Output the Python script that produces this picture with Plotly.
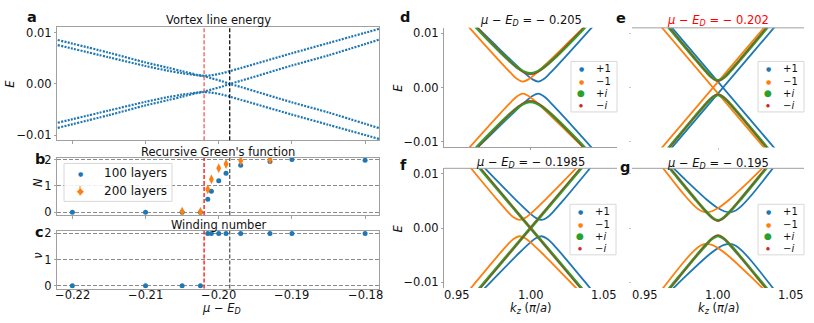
import plotly.graph_objects as go

W, H = 814, 323
BLUE, ORANGE, GREEN, RED = '#1f77b4', '#ff7f0e', '#2ca02c', '#d62728'
FONT = 'DejaVu Sans'
AXC = '#a0a0a0'

# ---------------- data ----------------
mu_red_line = -0.202
mu_black_line = -0.1985
mu_ticks = [-0.22, -0.21, -0.20, -0.19, -0.18]
mu_ticktext = ['−0.22', '−0.21', '−0.20', '−0.19', '−0.18']
E_ticks = [-0.01, 0.0, 0.01]
E_ticktext = ['−0.01', '0.00', '0.01']
k_ticks = [0.95, 1.00, 1.05]
k_ticktext = ['0.95', '1.00', '1.05']

# panel a: vortex line energies
mu_a = [-0.222, -0.215, -0.21, -0.207, -0.205, -0.203, -0.202, -0.201, -0.1995, -0.1985, -0.197, -0.19, -0.185, -0.178]
E_a1 = [0.0086, 0.0061, 0.0042, 0.0032, 0.0025, 0.0018, 0.0016, 0.0017, 0.0021, 0.0025, 0.0031, 0.0060, 0.0080, 0.0108]
E_a2 = [0.0076, 0.0052, 0.0035, 0.0026, 0.0021, 0.0017, 0.0015, 0.0011, 0.0005, 0.0, -0.0006, -0.0036, -0.0056, -0.0087]
E_a3 = [-0.0076, -0.0052, -0.0035, -0.0026, -0.0021, -0.0017, -0.0015, -0.0011, -0.0005, 0.0, 0.0006, 0.0036, 0.0056, 0.0087]
E_a4 = [-0.0086, -0.0061, -0.0042, -0.0032, -0.0025, -0.0018, -0.0016, -0.0017, -0.0021, -0.0025, -0.0031, -0.0060, -0.0080, -0.0108]

# panel b: recursive Green's function
mu_b100 = [-0.22, -0.21, -0.205, -0.2025, -0.2015, -0.201, -0.200, -0.199, -0.197, -0.193, -0.190, -0.180]
N_b100 = [0, 0, 0, 0, 0.5, 0.8, 1.2, 1.48, 1.78, 1.92, 2.0, 1.97]
mu_b200 = [-0.205, -0.2025, -0.2015, -0.201, -0.200, -0.199, -0.197, -0.193]
N_b200 = [0.03, 0.02, 0.87, 1.25, 1.67, 1.83, 1.95, 2.0]
err_b200 = [0.05, 0.05, 0.08, 0.08, 0.08, 0.08, 0.07, 0.04]
legend_b = ['100 layers', '200 layers']

# panel c: winding number
mu_c = [-0.22, -0.21, -0.205, -0.2025, -0.2015, -0.201, -0.200, -0.199, -0.197, -0.193, -0.190, -0.180]
nu_c = [0, 0, 0, 0, 2, 2, 2, 2, 2, 2, 2, 2]

# panels d-g: upper branches E(kz) (lower branch is the E -> -E partner)
d_blue_k = [0.9603, 0.9753, 0.9903, 0.9973, 1.0013, 1.0053, 1.0093, 1.0133, 1.0203, 1.0353, 1.0503]
d_blue_E = [0.01198, 0.00803, 0.00412, 0.00239, 0.00153, 0.0011, 0.00163, 0.00265, 0.00465, 0.00911, 0.01361]
d_orange_k = [0.9497, 0.9647, 0.9797, 0.9867, 0.9907, 0.9947, 0.9987, 1.0027, 1.0097, 1.0247, 1.0397]
d_orange_E = [0.01361, 0.00911, 0.00465, 0.00265, 0.00163, 0.0011, 0.00153, 0.00239, 0.00412, 0.00803, 0.01198]
d_green_k = [0.955, 0.97, 0.985, 0.992, 0.996, 1.0, 1.004, 1.008, 1.015, 1.03, 1.045]
d_green_E = [0.0134, 0.0091, 0.0051, 0.0035, 0.00285, 0.0026, 0.00285, 0.0035, 0.0051, 0.0091, 0.0134]
d_red_k = [0.955, 0.97, 0.985, 0.992, 0.996, 1.0, 1.004, 1.008, 1.015, 1.03, 1.045]
d_red_E = [0.0137, 0.0093, 0.0051, 0.0034, 0.00268, 0.0024, 0.00268, 0.0034, 0.0051, 0.0093, 0.0137]

e_blue_k = [0.9584, 0.9834, 1.0034, 1.0234, 1.0484]
e_blue_E = [0.01418, 0.0063, 0.0, 0.0063, 0.01418]
e_orange_k = [0.9516, 0.9766, 0.9966, 1.0166, 1.0416]
e_orange_E = [0.01418, 0.0063, 0.0, 0.0063, 0.01418]
e_green_k = [0.955, 0.97, 0.985, 0.992, 0.996, 1.0, 1.004, 1.008, 1.015, 1.03, 1.045]
e_green_E = [0.01473, 0.00986, 0.00506, 0.00291, 0.00184, 0.0013, 0.00184, 0.00291, 0.00506, 0.00986, 0.01473]
e_red_k = [0.955, 0.97, 0.985, 0.992, 0.996, 1.0, 1.004, 1.008, 1.015, 1.03, 1.045]
e_red_E = [0.0149, 0.00997, 0.00509, 0.0029, 0.00178, 0.0012, 0.00178, 0.0029, 0.00509, 0.00997, 0.0149]

f_blue_k = [0.9626, 0.9776, 0.9926, 0.9996, 1.0036, 1.0076, 1.0116, 1.0156, 1.0226, 1.0376, 1.0526]
f_blue_E = [0.01278, 0.00859, 0.00449, 0.00271, 0.00188, 0.0015, 0.0020, 0.00304, 0.00519, 0.01004, 0.01497]
f_orange_k = [0.9474, 0.9624, 0.9774, 0.9844, 0.9884, 0.9924, 0.9964, 1.0004, 1.0074, 1.0224, 1.0374]
f_orange_E = [0.01497, 0.01004, 0.00519, 0.00304, 0.0020, 0.0015, 0.00188, 0.00271, 0.00449, 0.00859, 0.01278]
f_green_k = [0.955, 0.98, 1.0, 1.02, 1.045]
f_green_E = [0.01435, 0.00638, 0.0, 0.00638, 0.01435]
f_red_k = [0.955, 0.98, 1.0, 1.02, 1.045]
f_red_E = [0.0146, 0.0065, 0.0, 0.0065, 0.0146]

g_blue_k = [0.9632, 0.9782, 0.9932, 1.0002, 1.0042, 1.0082, 1.0122, 1.0162, 1.0232, 1.0382, 1.0532]
g_blue_E = [0.01271, 0.00875, 0.00504, 0.00364, 0.0031, 0.0029, 0.00324, 0.00409, 0.00614, 0.01121, 0.01651]
g_orange_k = [0.9468, 0.9618, 0.9768, 0.9838, 0.9878, 0.9918, 0.9958, 0.9998, 1.0068, 1.0218, 1.0368]
g_orange_E = [0.01651, 0.01121, 0.00614, 0.00409, 0.00324, 0.0029, 0.0031, 0.00364, 0.00504, 0.00875, 0.01271]
g_green_k = [0.955, 0.97, 0.985, 0.992, 0.996, 1.0, 1.004, 1.008, 1.015, 1.03, 1.045]
g_green_E = [0.01494, 0.01002, 0.00515, 0.00299, 0.00193, 0.0014, 0.00193, 0.00299, 0.00515, 0.01002, 0.01494]
g_red_k = [0.955, 0.97, 0.985, 0.992, 0.996, 1.0, 1.004, 1.008, 1.015, 1.03, 1.045]
g_red_E = [0.01514, 0.01013, 0.00519, 0.00298, 0.00187, 0.0013, 0.00187, 0.00298, 0.00519, 0.01013, 0.01514]

sym_labels = ['+1', '−1', '+<i>i</i>', '−<i>i</i>']
titles_dg = ['<i>μ</i> − <i>E</i><sub><i>D</i></sub> = − 0.205', '<i>μ</i> − <i>E</i><sub><i>D</i></sub> = − 0.202',
             '<i>μ</i> − <i>E</i><sub><i>D</i></sub> = − 0.1985', '<i>μ</i> − <i>E</i><sub><i>D</i></sub> = − 0.195']

# ---------------- figure ----------------
fig = go.Figure()

def P(x, y):
    return x / W, 1 - y / H

# panel a
for E in (E_a1, E_a2, E_a3, E_a4):
    fig.add_trace(go.Scatter(x=mu_a, y=E, mode='lines', xaxis='x', yaxis='y', showlegend=False,
                             line=dict(color=BLUE, width=2.2, dash='2px,1.3px', shape='spline', smoothing=0.8)))
# panel b
fig.add_trace(go.Scatter(x=mu_b100, y=N_b100, mode='markers', xaxis='x2', yaxis='y2', showlegend=False,
                         marker=dict(color=BLUE, size=5)))
fig.add_trace(go.Scatter(x=mu_b200, y=N_b200, mode='markers', xaxis='x2', yaxis='y2', showlegend=False,
                         marker=dict(color=ORANGE, size=7, symbol='diamond-tall'),
                         error_y=dict(type='data', array=err_b200, color=ORANGE, thickness=1, width=0)))
# panel c
fig.add_trace(go.Scatter(x=mu_c, y=nu_c, mode='markers', xaxis='x3', yaxis='y3', showlegend=False,
                         marker=dict(color=BLUE, size=5)))

# panels d-g
panels = [
    ('x4', 'y4', [(d_blue_k, d_blue_E), (d_orange_k, d_orange_E), (d_green_k, d_green_E), (d_red_k, d_red_E)]),
    ('x5', 'y5', [(e_blue_k, e_blue_E), (e_orange_k, e_orange_E), (e_green_k, e_green_E), (e_red_k, e_red_E)]),
    ('x6', 'y6', [(f_blue_k, f_blue_E), (f_orange_k, f_orange_E), (f_green_k, f_green_E), (f_red_k, f_red_E)]),
    ('x7', 'y7', [(g_blue_k, g_blue_E), (g_orange_k, g_orange_E), (g_green_k, g_green_E), (g_red_k, g_red_E)]),
]
styles = [(BLUE, 1.8), (ORANGE, 1.8), (GREEN, 3.0), (RED, 1.0)]
for xa, ya, curves in panels:
    for (k, E), (col, w) in zip(curves, styles):
        shape = 'linear' if min(E) == 0.0 else 'spline'
        for branch in (E, [-e for e in E]):
            fig.add_trace(go.Scatter(x=k, y=branch, mode='lines', xaxis=xa, yaxis=ya, showlegend=False,
                                     line=dict(color=col, width=w, shape=shape, smoothing=0.9)))

tickfont = dict(family=FONT, size=11.5, color='#111')

def ydom(top, bot):
    return [1 - bot / H, 1 - top / H]

common_off = dict(showgrid=False, zeroline=False)
lay = dict(
    width=W, height=H, margin=dict(l=0, r=0, t=0, b=0),
    paper_bgcolor='white', plot_bgcolor='white', showlegend=False,
    font=dict(family=FONT, size=11.5, color='#111'),
    xaxis=dict(domain=[57 / W, 379 / W], range=[-0.2221, -0.1781], anchor='y', showline=True, mirror=True,
               linecolor=AXC, ticks='outside', ticklen=3, tickcolor=AXC, tickvals=mu_ticks,
               showticklabels=False, **common_off),
    yaxis=dict(domain=ydom(22.3, 139), range=[-0.0110, 0.0112], anchor='x', showline=True, mirror=True,
               linecolor=AXC, ticks='outside', ticklen=2, tickcolor=AXC, tickvals=E_ticks, ticktext=E_ticktext,
               tickfont=tickfont, **common_off),
    xaxis2=dict(domain=[57 / W, 379 / W], matches='x', anchor='y2', showline=True, mirror=True,
                linecolor=AXC, ticks='outside', ticklen=3, tickcolor=AXC, tickvals=mu_ticks,
                showticklabels=False, **common_off),
    yaxis2=dict(domain=ydom(157.3, 216), range=[-0.1, 2.06], anchor='x2', showline=True, mirror=True,
                linecolor=AXC, ticks='outside', ticklen=2, tickcolor=AXC, tickvals=[0, 1, 2], tickfont=tickfont,
                showgrid=True, gridcolor='#8a8a8a', griddash='4px,2px', gridwidth=1, zeroline=False),
    xaxis3=dict(domain=[57 / W, 379 / W], matches='x', anchor='y3', showline=True, mirror=True,
                linecolor=AXC, ticks='', tickvals=mu_ticks, showticklabels=False, **common_off),
    yaxis3=dict(domain=ydom(232.3, 291.7), range=[-0.11, 2.1], anchor='x3', showline=True, mirror=True,
                linecolor=AXC, ticks='outside', ticklen=2, tickcolor=AXC, tickvals=[0, 1, 2], tickfont=tickfont,
                showgrid=True, gridcolor='#8a8a8a', griddash='4px,2px', gridwidth=1, zeroline=False),
    # d
    xaxis4=dict(domain=[444 / W, 617 / W], range=[0.941, 1.059], anchor='y4', showline=True, linecolor=AXC,
                ticks='outside', ticklen=2, tickcolor=AXC, tickvals=[1.0], showticklabels=False, **common_off),
    yaxis4=dict(domain=ydom(23.5, 146.5), range=[-0.011, 0.011], anchor='x4', showline=True, linecolor=AXC,
                ticks='outside', ticklen=2, tickcolor=AXC, tickvals=E_ticks, ticktext=E_ticktext, tickfont=tickfont,
                **common_off),
    # e
    xaxis5=dict(domain=[632 / W, 804 / W], range=[0.941, 1.059], anchor='y5', showline=False,
                ticks='outside', ticklen=2, tickcolor='#c8c8c8', tickvals=[1.0], showticklabels=False, **common_off),
    yaxis5=dict(domain=ydom(23.5, 146.5), range=[-0.011, 0.011], anchor='x5', showline=False,
                ticks='outside', ticklen=2, tickcolor='#c8c8c8', tickvals=E_ticks, showticklabels=False, **common_off),
    # f
    xaxis6=dict(domain=[444 / W, 617 / W], range=[0.941, 1.059], anchor='y6', showline=False,
                ticks='', tickvals=k_ticks, showticklabels=False, **common_off),
    yaxis6=dict(domain=ydom(168, 291), range=[-0.011, 0.011], anchor='x6', showline=True, linecolor=AXC,
                ticks='outside', ticklen=2, tickcolor=AXC, tickvals=E_ticks, ticktext=E_ticktext, tickfont=tickfont,
                **common_off),
    # g
    xaxis7=dict(domain=[632 / W, 804 / W], range=[0.941, 1.059], anchor='y7', showline=False,
                ticks='', tickvals=k_ticks, showticklabels=False, **common_off),
    yaxis7=dict(domain=ydom(168, 291), range=[-0.011, 0.011], anchor='x7', showline=False,
                ticks='outside', ticklen=2, tickcolor='#c8c8c8', tickvals=E_ticks, showticklabels=False, **common_off),
)
fig.update_layout(**lay)

shapes = []
# reference lines
for xr, yr, redc, blkc, rw in (('x', 'y', '#f25c5c', '#111111', 1.3), ('x2', 'y2', '#ff1a1a', '#5a5a5a', 1.4),
                               ('x3', 'y3', '#ff1a1a', '#5a5a5a', 1.4)):
    shapes.append(dict(type='line', xref=xr, yref=yr + ' domain', x0=mu_red_line, x1=mu_red_line, y0=0, y1=1,
                       line=dict(color=redc, width=rw, dash='4px,2px'), layer='above'))
    shapes.append(dict(type='line', xref=xr, yref=yr + ' domain', x0=mu_black_line, x1=mu_black_line, y0=0, y1=1,
                       line=dict(color=blkc, width=1.3, dash='4px,2px'), layer='above'))
# top spines for e, f, g
for xa, ya in (('x5', 'y5'), ('x6', 'y6'), ('x7', 'y7')):
    shapes.append(dict(type='line', xref=xa + ' domain', yref=ya + ' domain', x0=0, x1=1, y0=1, y1=1,
                       line=dict(color=AXC, width=1)))

annotations = []

def text(x, y, s, size=11.5, color='#111', angle=0, xanchor='center', yanchor='middle'):
    xp, yp = P(x, y)
    annotations.append(dict(x=xp, y=yp, xref='paper', yref='paper', text=s, showarrow=False,
                            font=dict(family=FONT, size=size, color=color), textangle=angle,
                            xanchor=xanchor, yanchor=yanchor, borderpad=0))

def xtick_labels(xref, vals, labels, y_px):
    for v, lab in zip(vals, labels):
        annotations.append(dict(x=v, y=1 - y_px / H, xref=xref, yref='paper', text=lab, showarrow=False,
                                font=tickfont, xanchor='center', yanchor='middle', borderpad=0))

xtick_labels('x3', mu_ticks, mu_ticktext, 298.5)
xtick_labels('x6', k_ticks, k_ticktext, 298.5)
xtick_labels('x7', k_ticks, k_ticktext, 298.5)

# titles
text(218, 15.5, 'Vortex line energy')
text(218, 151, "Recursive Green's function")
text(218, 226, 'Winding number')
text(531, 16, titles_dg[0])
text(718, 16, titles_dg[1], color='#ff0000')
text(530, 162, titles_dg[2])
text(718, 163, titles_dg[3])
# panel letters
for s, x, y in (('a', 32, 12), ('b', 40, 158), ('c', 39.5, 234), ('d', 405, 12), ('e', 620.5, 13.5),
                ('f', 403, 165), ('g', 625, 167)):
    text(x, y, '<b>%s</b>' % s, size=14.5)
# axis labels
text(10, 81, '<i>E</i>', angle=-90)
text(38, 183, '<i>N</i>', angle=-90)
text(38, 258, '<i>ν</i>', angle=-90)
text(398, 85, '<i>E</i>', angle=-90)
text(398, 230, '<i>E</i>', angle=-90)
text(221, 312, '<i>μ</i> − <i>E</i><sub><i>D</i></sub>')
text(530.5, 312, '<i>k</i><sub><i>z</i></sub> (<i>π</i>/<i>a</i>)')
text(718.5, 312, '<i>k</i><sub><i>z</i></sub> (<i>π</i>/<i>a</i>)')

# legend of panel b
bx0, by0, bx1, by1 = 64, 163, 172, 202
x0, y0 = P(bx0, by0)
x1, y1 = P(bx1, by1)
shapes.append(dict(type='rect', xref='paper', yref='paper', x0=x0, x1=x1, y0=y1, y1=y0,
                   fillcolor='rgba(255,255,255,0.85)', line=dict(color='#d8d8d8', width=1), layer='above'))
text(80, 173.3, '●', size=6, color=BLUE)
text(80, 191, '◆', size=9, color=ORANGE)
ex, ey0 = P(80, 186)
_, ey1 = P(80, 196)
shapes.append(dict(type='line', xref='paper', yref='paper', x0=ex, x1=ex, y0=ey0, y1=ey1,
                   line=dict(color=ORANGE, width=1), layer='above'))
text(103, 173.3, legend_b[0], size=12, xanchor='left')
text(103, 191, legend_b[1], size=12, xanchor='left')

# symmetry-sector legends (d-g)
mk = [(BLUE, 6), (ORANGE, 6), (GREEN, 9), (RED, 4.5)]
row_off = [7.8, 20.4, 32.8, 45.6]
for bx, by in ((571, 58), (758, 58), (570, 205), (758, 205)):
    x0, y0 = P(bx, by)
    x1, y1 = P(bx + 46, by + 52)
    shapes.append(dict(type='rect', xref='paper', yref='paper', x0=x0, x1=x1, y0=y1, y1=y0,
                       fillcolor='rgba(255,255,255,0.85)', line=dict(color='#d8d8d8', width=1), layer='above'))
    for (col, sz), lab, off in zip(mk, sym_labels, row_off):
        text(bx + 10, by + off, '●', size=sz, color=col)
        text(bx + 24, by + off, lab, size=10, xanchor='left')

fig.update_layout(shapes=shapes, annotations=annotations)
fig.write_html('out.html', config={'displayModeBar': False},
               post_script="document.body.style.margin='0px';document.body.style.padding='0px';")
